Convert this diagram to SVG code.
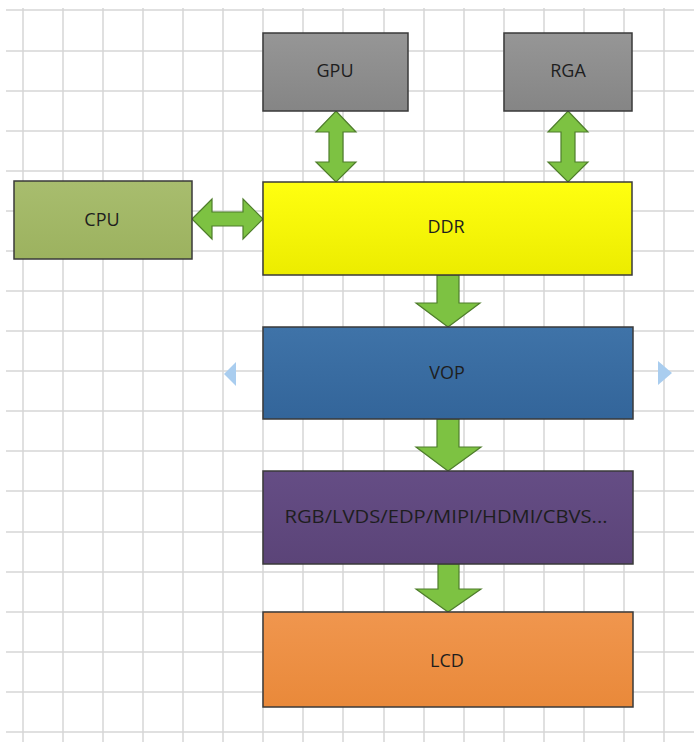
<svg xmlns="http://www.w3.org/2000/svg" width="694" height="742" viewBox="0 0 694 742">
<defs>
<style>
.grid line{stroke:#d6d6d6;stroke-width:1.5}
.box{stroke:#3a3a3a;stroke-width:1.5}
.lbl{font-family:"Open Sans","Liberation Sans",sans-serif;font-size:18px;text-anchor:middle;fill:#1e1e1e}
.arrow{fill:#7dc242;stroke:#4e7d2b;stroke-width:1.2;stroke-linejoin:miter}
.nav{fill:#a9cdef}
</style>
<linearGradient id="gGray" x1="0" y1="0" x2="0" y2="1"><stop offset="0" stop-color="#969696"/><stop offset="1" stop-color="#858585"/></linearGradient>
<linearGradient id="gYel" x1="0" y1="0" x2="0" y2="1"><stop offset="0" stop-color="#ffff10"/><stop offset="1" stop-color="#ecec00"/></linearGradient>
<linearGradient id="gOlive" x1="0" y1="0" x2="0" y2="1"><stop offset="0" stop-color="#a8bd6e"/><stop offset="1" stop-color="#9cb25f"/></linearGradient>
<linearGradient id="gBlue" x1="0" y1="0" x2="0" y2="1"><stop offset="0" stop-color="#3f73a8"/><stop offset="1" stop-color="#33659a"/></linearGradient>
<linearGradient id="gPurp" x1="0" y1="0" x2="0" y2="1"><stop offset="0" stop-color="#654d85"/><stop offset="1" stop-color="#5b4478"/></linearGradient>
<linearGradient id="gOrg" x1="0" y1="0" x2="0" y2="1"><stop offset="0" stop-color="#f0964e"/><stop offset="1" stop-color="#e9893a"/></linearGradient>
</defs>
<rect width="694" height="742" fill="#ffffff"/>
<g class="grid">
<line x1="23" y1="8" x2="23" y2="742"/><line x1="63" y1="8" x2="63" y2="742"/><line x1="103" y1="8" x2="103" y2="742"/><line x1="143" y1="8" x2="143" y2="742"/><line x1="183" y1="8" x2="183" y2="742"/><line x1="223" y1="8" x2="223" y2="742"/><line x1="263" y1="8" x2="263" y2="742"/><line x1="303" y1="8" x2="303" y2="742"/><line x1="343" y1="8" x2="343" y2="742"/><line x1="384" y1="8" x2="384" y2="742"/><line x1="424" y1="8" x2="424" y2="742"/><line x1="464" y1="8" x2="464" y2="742"/><line x1="504" y1="8" x2="504" y2="742"/><line x1="544" y1="8" x2="544" y2="742"/><line x1="584" y1="8" x2="584" y2="742"/><line x1="624" y1="8" x2="624" y2="742"/><line x1="664" y1="8" x2="664" y2="742"/>
<line x1="6" y1="10" x2="694" y2="10"/><line x1="6" y1="51" x2="694" y2="51"/><line x1="6" y1="91" x2="694" y2="91"/><line x1="6" y1="131" x2="694" y2="131"/><line x1="6" y1="171" x2="694" y2="171"/><line x1="6" y1="211" x2="694" y2="211"/><line x1="6" y1="251" x2="694" y2="251"/><line x1="6" y1="291" x2="694" y2="291"/><line x1="6" y1="331" x2="694" y2="331"/><line x1="6" y1="371" x2="694" y2="371"/><line x1="6" y1="411" x2="694" y2="411"/><line x1="6" y1="451" x2="694" y2="451"/><line x1="6" y1="491" x2="694" y2="491"/><line x1="6" y1="532" x2="694" y2="532"/><line x1="6" y1="572" x2="694" y2="572"/><line x1="6" y1="612" x2="694" y2="612"/><line x1="6" y1="652" x2="694" y2="652"/><line x1="6" y1="692" x2="694" y2="692"/><line x1="6" y1="732" x2="694" y2="732"/>
</g>
<g id="connectors">
<polygon class="arrow" points="336,111 356,132 343,132 343,162 356,162 336,182 316,162 329,162 329,132 316,132"/>
<polygon class="arrow" points="568,111 588,132 575,132 575,162 588,162 568,182 548,162 561,162 561,132 548,132"/>
<polygon class="arrow" points="192,219 212,199 212,212 243,212 243,199 263,219 243,239 243,226 212,226 212,239"/>
<polygon class="arrow" points="437,275 459,275 459,303 480,303 448,327 416,303 437,303"/>
<polygon class="arrow" points="437,419 459,419 459,447 481,447 448,471 416,447 437,447"/>
<polygon class="arrow" points="438,564 459,564 459,589 481,589 448,612 416,589 438,589"/>
</g>
<g id="gpu"><rect class="box" x="263" y="33" width="145" height="78" fill="url(#gGray)"/><text class="lbl" x="335" y="77">GPU</text></g>
<g id="rga"><rect class="box" x="504" y="33" width="128" height="78" fill="url(#gGray)"/><text class="lbl" x="568" y="77">RGA</text></g>
<g id="cpu"><rect class="box" x="14" y="181" width="178" height="78" fill="url(#gOlive)"/><text class="lbl" x="102" y="226">CPU</text></g>
<g id="ddr"><rect class="box" x="263" y="182" width="369" height="93" fill="url(#gYel)"/><text class="lbl" x="446" y="233">DDR</text></g>
<g id="vop"><rect class="box" x="263" y="327" width="370" height="92" fill="url(#gBlue)"/><text class="lbl" x="447" y="379">VOP</text></g>
<g id="iface"><rect class="box" x="263" y="471" width="370" height="93" fill="url(#gPurp)"/><text class="lbl" x="446" y="523" textLength="323" lengthAdjust="spacingAndGlyphs">RGB/LVDS/EDP/MIPI/HDMI/CBVS...</text></g>
<g id="lcd"><rect class="box" x="263" y="612" width="370" height="95" fill="url(#gOrg)"/><text class="lbl" x="447" y="667">LCD</text></g>
<polygon class="nav" points="224,374 236,362 236,386"/>
<polygon class="nav" points="672,373 658,361 658,385"/>
</svg>
